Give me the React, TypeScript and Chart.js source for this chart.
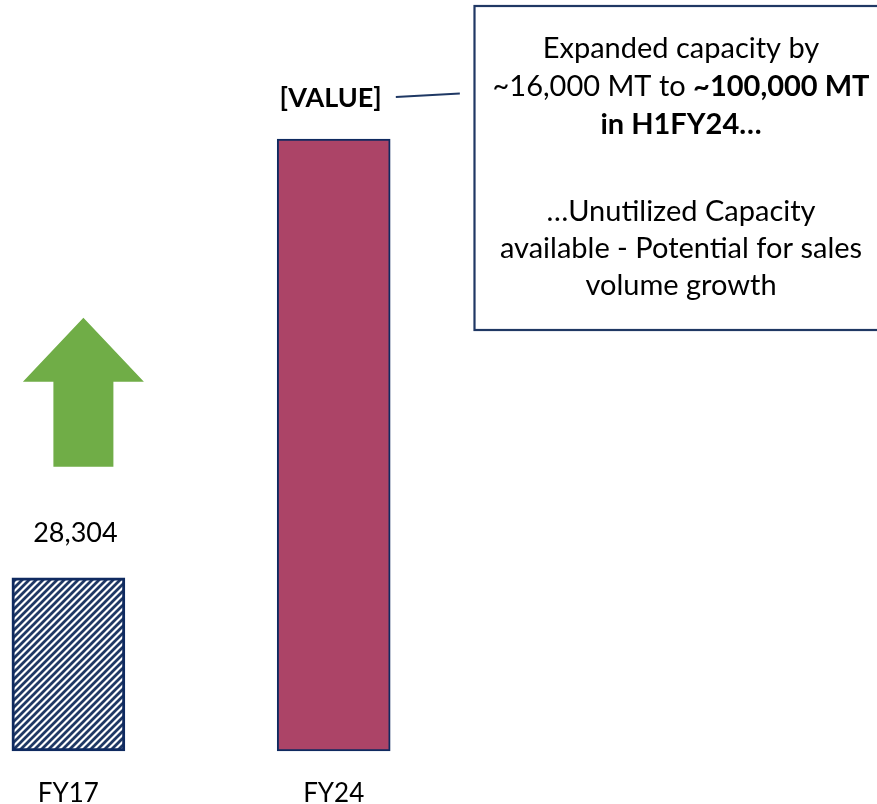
import React, { useEffect, useRef } from "react";
import { Chart, registerables } from "chart.js";

Chart.register(...registerables);

// ---- data ----
const categories = ["FY17", "FY24"];
const capacityValues = [28304, 100000];
const valueLabels = ["28,304", "[VALUE]"];
const valueLabelBold = [false, true];
const calloutLine1 = [{ t: "Expanded capacity by", b: false }];
const calloutLine2 = [
  { t: "~16,000 MT to ", b: false },
  { t: "~100,000 MT", b: true },
];
const calloutLine3 = [{ t: "in H1FY24…", b: true }];
const calloutLine4 = [{ t: "…Unutilized Capacity", b: false }];
const calloutLine5 = [{ t: "available - Potential for sales", b: false }];
const calloutLine6 = [{ t: "volume growth", b: false }];

const NAVY = "#1F3864";
const BAR_NAVY = "#0F2A60";
const MAROON = "#AC4467";
const GREEN = "#70AD47";
const FONT = "Lato, 'Open Sans', sans-serif";

function makeStripePattern(): CanvasPattern | string {
  const s = 7;
  const c = document.createElement("canvas");
  c.width = s;
  c.height = s;
  const g = c.getContext("2d");
  if (!g) return NAVY;
  g.fillStyle = "#ffffff";
  g.fillRect(0, 0, s, s);
  g.strokeStyle = NAVY;
  g.lineWidth = 2.8;
  g.beginPath();
  g.moveTo(-1, s + 1);
  g.lineTo(s + 1, -1);
  g.moveTo(-2, 2);
  g.lineTo(2, -2);
  g.moveTo(s - 2, s + 2);
  g.lineTo(s + 2, s - 2);
  g.stroke();
  const p = g.createPattern(c, "repeat");
  return p || NAVY;
}

const annotationPlugin = {
  id: "annotations",
  afterDatasetsDraw(chart: any) {
    const ctx: CanvasRenderingContext2D = chart.ctx;
    const meta = chart.getDatasetMeta(0);
    const bars = meta.data;
    ctx.save();

    // value labels above bars
    const labelDx = [7, -3];
    const labelDy = [36, 32];
    bars.forEach((bar: any, i: number) => {
      ctx.font = `${valueLabelBold[i] ? "bold " : ""}27px ${FONT}`;
      ctx.fillStyle = "#000";
      ctx.textAlign = "center";
      ctx.textBaseline = "alphabetic";
      ctx.fillText(valueLabels[i], bar.x + labelDx[i], bar.y - labelDy[i]);
    });

    // green up arrow above first bar
    const b0 = bars[0];
    const ax = b0.x + 15;
    const bottom = b0.y - 111;
    const headBase = b0.y - 196;
    const tip = b0.y - 260;
    ctx.fillStyle = GREEN;
    ctx.beginPath();
    ctx.moveTo(ax, tip);
    ctx.lineTo(ax + 60.5, headBase);
    ctx.lineTo(ax + 30, headBase);
    ctx.lineTo(ax + 30, bottom);
    ctx.lineTo(ax - 30, bottom);
    ctx.lineTo(ax - 30, headBase);
    ctx.lineTo(ax - 60.5, headBase);
    ctx.closePath();
    ctx.fill();

    // connector line from [VALUE] label to callout box
    const b1 = bars[1];
    ctx.font = `bold 27px ${FONT}`;
    const w1 = ctx.measureText(valueLabels[1]).width;
    const lx = b1.x - 3 + w1 / 2 + 14;
    const ly = b1.y - 42;
    ctx.strokeStyle = NAVY;
    ctx.lineWidth = 2;
    ctx.beginPath();
    ctx.moveTo(lx, ly);
    ctx.lineTo(lx + 64, ly - 3.5);
    ctx.stroke();

    // callout box
    ctx.strokeStyle = "#203864";
    ctx.lineWidth = 2.2;
    ctx.strokeRect(474.5, 6, 430, 324);

    const lines = [calloutLine1, calloutLine2, calloutLine3, calloutLine4, calloutLine5, calloutLine6];
    const baselines = [58, 96, 134, 221, 258, 295];
    const cx = 681;
    const fs = 29;
    ctx.fillStyle = "#000";
    ctx.textAlign = "left";
    ctx.textBaseline = "alphabetic";
    lines.forEach((segs, li) => {
      let total = 0;
      const widths = segs.map((s) => {
        ctx.font = `${s.b ? "bold " : ""}${fs}px ${FONT}`;
        const w = ctx.measureText(s.t).width;
        total += w;
        return w;
      });
      let x = cx - total / 2;
      segs.forEach((s, si) => {
        ctx.font = `${s.b ? "bold " : ""}${fs}px ${FONT}`;
        ctx.fillText(s.t, x, baselines[li]);
        x += widths[si];
      });
    });

    ctx.restore();
  },
};

export default function App() {
  const canvasRef = useRef<HTMLCanvasElement | null>(null);

  useEffect(() => {
    const canvas = canvasRef.current;
    if (!canvas) return;
    const stripes = makeStripePattern();
    const chart = new Chart(canvas, {
      type: "bar",
      data: {
        labels: categories,
        datasets: [
          {
            data: capacityValues,
            backgroundColor: [stripes as any, MAROON],
            borderColor: [BAR_NAVY, BAR_NAVY],
            borderWidth: [3, 2],
            borderSkipped: false,
            barThickness: 113,
            clip: false as any,
          },
        ],
      },
      options: {
        responsive: false,
        animation: false,
        devicePixelRatio: 1,
        layout: {
          padding: { left: 68.4, right: 543.3, top: 16.6, bottom: 7.6 },
        },
        plugins: {
          legend: { display: false },
          tooltip: { enabled: false },
        },
        scales: {
          x: {
            type: "category",
            offset: false,
            grid: { display: false, drawTicks: false },
            border: { display: false },
            ticks: {
              color: "#000",
              font: { family: FONT, size: 26, lineHeight: 0.6 },
              padding: 34.9,
              maxRotation: 0,
              autoSkip: false,
            },
          },
          y: {
            display: false,
            min: 0,
            max: 120000,
          },
        },
      },
      plugins: [annotationPlugin],
    });
    return () => chart.destroy();
  }, []);

  return (
    <div
      style={{
        position: "absolute",
        left: 0,
        top: 0,
        width: 877,
        height: 804,
        overflow: "hidden",
        background: "#fff",
      }}
    >
      <canvas ref={canvasRef} width={877} height={844} style={{ display: "block" }} />
    </div>
  );
}
